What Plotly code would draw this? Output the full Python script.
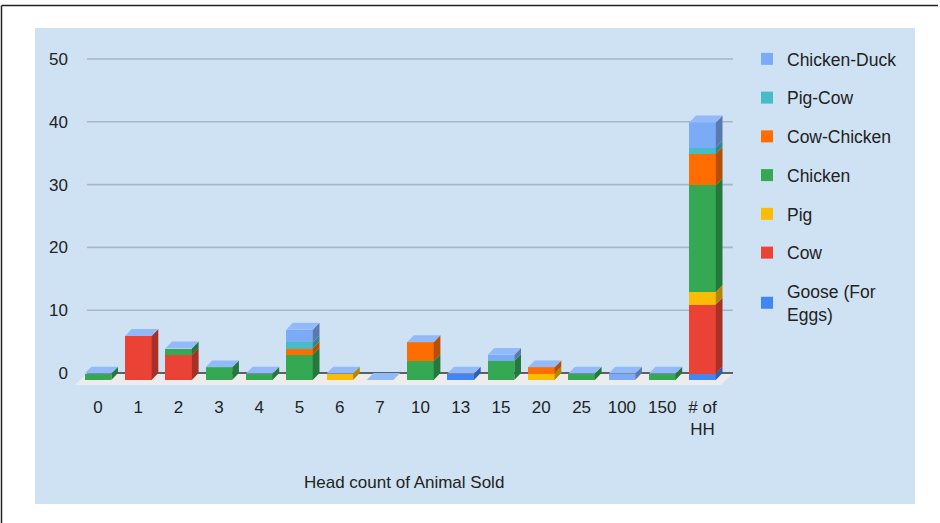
import plotly.graph_objects as go

# Household counts by head count of animals sold, per animal type
categories = ["0", "1", "2", "3", "4", "5", "6", "7", "10", "13", "15", "20",
              "25", "100", "150", "# of<br>HH"]
series_names = ["Goose (For<br>Eggs)", "Cow", "Pig", "Chicken", "Cow-Chicken",
                "Pig-Cow", "Chicken-Duck"]
goose = [0, 0, 0, 0, 0, 0, 0, 0, 0, 1, 0, 0, 0, 0, 0, 1]
cow = [0, 7, 4, 0, 0, 0, 0, 0, 0, 0, 0, 0, 0, 0, 0, 11]
pig = [0, 0, 0, 0, 0, 0, 1, 0, 0, 0, 0, 1, 0, 0, 0, 2]
chicken = [1, 0, 1, 2, 1, 4, 0, 0, 3, 0, 3, 0, 1, 0, 1, 17]
cow_chicken = [0, 0, 0, 0, 0, 1, 0, 0, 3, 0, 0, 1, 0, 0, 0, 5]
pig_cow = [0, 0, 0, 0, 0, 1, 0, 0, 0, 0, 0, 0, 0, 0, 0, 1]
chicken_duck = [0, 0, 0, 0, 0, 2, 0, 0, 0, 0, 1, 0, 0, 1, 0, 4]
y_ticks = [0, 10, 20, 30, 40, 50]

series_values = [goose, cow, pig, chicken, cow_chicken, pig_cow, chicken_duck]
front_colors = ["#4285f4", "#ea4335", "#fbbc04", "#34a853", "#ff6d01",
                "#46bdc6", "#7baaf7"]
top_color = "#92baf8"


def shade(hex_color, f):
    r, g, b = (int(hex_color[i:i + 2], 16) for i in (1, 3, 5))
    return "#%02x%02x%02x" % (int(r * f), int(g * f), int(b * f))


side_colors = [shade(c, 0.72) for c in front_colors]

# figure geometry (pixels)
FIG_W, FIG_H = 940, 523
L, R, T, B = 72, 740, 40, 395
PX_PER_UNIT = 6.28
ZERO_PX = 373
CAT0_PX, CAT_STEP = 98, 40.3

y_max = (ZERO_PX - T) / PX_PER_UNIT
y_min = -(B - ZERO_PX) / PX_PER_UNIT
x_min = (L - CAT0_PX) / CAT_STEP
x_max = (R - CAT0_PX) / CAT_STEP

# 3-D look: bar width, depth offsets (in axis units)
BW = 0.66
DX = 6.7 / CAT_STEP
DY = 6.9 / PX_PER_UNIT
WALL_X0 = (87 - CAT0_PX) / CAT_STEP
WALL_X1 = (733 - CAT0_PX) / CAT_STEP
FDX = 12 / CAT_STEP
FDY = 12 / PX_PER_UNIT


def px_x(p):
    return (p - L) / (R - L)


def px_y(p):
    return (B - p) / (B - T)


idx = list(range(len(categories)))
fig = go.Figure()

# stacked front faces plus side faces
bottoms = [0] * len(categories)
side_x = {i: [] for i in range(len(series_values))}
side_y = {i: [] for i in range(len(series_values))}
for s, vals in enumerate(series_values):
    base = [b - DY for b in bottoms]
    fig.add_trace(go.Bar(
        x=idx, y=vals, base=base, width=BW, name=series_names[s],
        marker=dict(color=front_colors[s], line=dict(width=0)),
        legendrank=100 - s, legendgroup=series_names[s],
        hoverinfo="skip"))
    for i, v in enumerate(vals):
        if v > 0:
            a = bottoms[i] - DY
            b = a + v
            xr = i + BW / 2
            side_x[s] += [xr, xr + DX, xr + DX, xr, xr, None]
            side_y[s] += [a, a + DY, b + DY, b, a, None]
    bottoms = [b + v for b, v in zip(bottoms, vals)]

for s in range(len(series_values)):
    if side_x[s]:
        fig.add_trace(go.Scatter(
            x=side_x[s], y=side_y[s], fill="toself",
            fillcolor=side_colors[s], mode="lines", line=dict(width=0),
            hoverinfo="skip", showlegend=False))

# top faces
tx, ty = [], []
for i, tot in enumerate(bottoms):
    f = tot - DY
    xl, xr = i - BW / 2, i + BW / 2
    tx += [xl, xr, xr + DX, xl + DX, xl, None]
    ty += [f, f, f + DY, f + DY, f, None]
fig.add_trace(go.Scatter(x=tx, y=ty, fill="toself", fillcolor=top_color,
                         mode="lines", line=dict(width=0),
                         hoverinfo="skip", showlegend=False))

# background panel, floor plate, back-wall gridlines and baseline
shapes = [
    dict(type="rect", xref="paper", yref="paper", layer="below",
         x0=px_x(35), x1=px_x(915), y0=px_y(504), y1=px_y(28),
         fillcolor="#cfe2f3", line=dict(width=0)),
    dict(type="path", xref="x", yref="y", layer="below",
         path="M{},{} L{},{} L{},{} L{},{} Z".format(
             WALL_X0, 0, WALL_X1, 0, WALL_X1 - FDX, -FDY, WALL_X0 - FDX, -FDY),
         fillcolor="#ececec", line=dict(width=0)),
]
for t in y_ticks[1:]:
    shapes.append(dict(type="line", xref="x", yref="y", layer="below",
                       x0=WALL_X0, x1=WALL_X1, y0=t, y1=t,
                       line=dict(color="#a9b6c3", width=1.6)))
shapes.append(dict(type="line", xref="x", yref="y", layer="below",
                   x0=WALL_X0, x1=WALL_X1, y0=0, y1=0,
                   line=dict(color="#333333", width=1.6)))
shapes += [
    dict(type="line", xref="paper", yref="paper",
         x0=px_x(1.5), x1=px_x(938), y0=px_y(5.5), y1=px_y(5.5),
         line=dict(color="#222222", width=1.5)),
    dict(type="line", xref="paper", yref="paper",
         x0=px_x(1.5), x1=px_x(1.5), y0=px_y(5.5), y1=px_y(523),
         line=dict(color="#222222", width=1.5)),
]

FONT = "Liberation Sans, Arial, sans-serif"

fig.update_layout(
    width=FIG_W, height=FIG_H,
    margin=dict(l=L, r=FIG_W - R, t=T, b=FIG_H - B, pad=0),
    paper_bgcolor="white", plot_bgcolor="rgba(0,0,0,0)",
    barmode="overlay", bargap=0,
    font=dict(family=FONT, size=17, color="#222222"),
    xaxis=dict(range=[x_min, x_max], tickvals=idx, ticktext=categories,
               showgrid=False, zeroline=False, showline=False, ticks="",
               tickfont=dict(size=17, color="#222222")),
    yaxis=dict(range=[y_min, y_max], tickvals=y_ticks, showgrid=False,
               zeroline=False, showline=False, ticks="",
               ticklabelstandoff=3,
               tickfont=dict(size=17, color="#222222")),
    legend=dict(x=px_x(747), y=px_y(41), xanchor="left", yanchor="top",
                bgcolor="rgba(0,0,0,0)", tracegroupgap=13,
                font=dict(size=17.5, color="#222222")),
    shapes=shapes,
    annotations=[dict(text="Head count of Animal Sold", xref="paper",
                      yref="paper", x=px_x(404), y=px_y(482),
                      xanchor="center", yanchor="middle", showarrow=False,
                      font=dict(size=17, color="#222222"))],
)

fig.write_html("out.html")
